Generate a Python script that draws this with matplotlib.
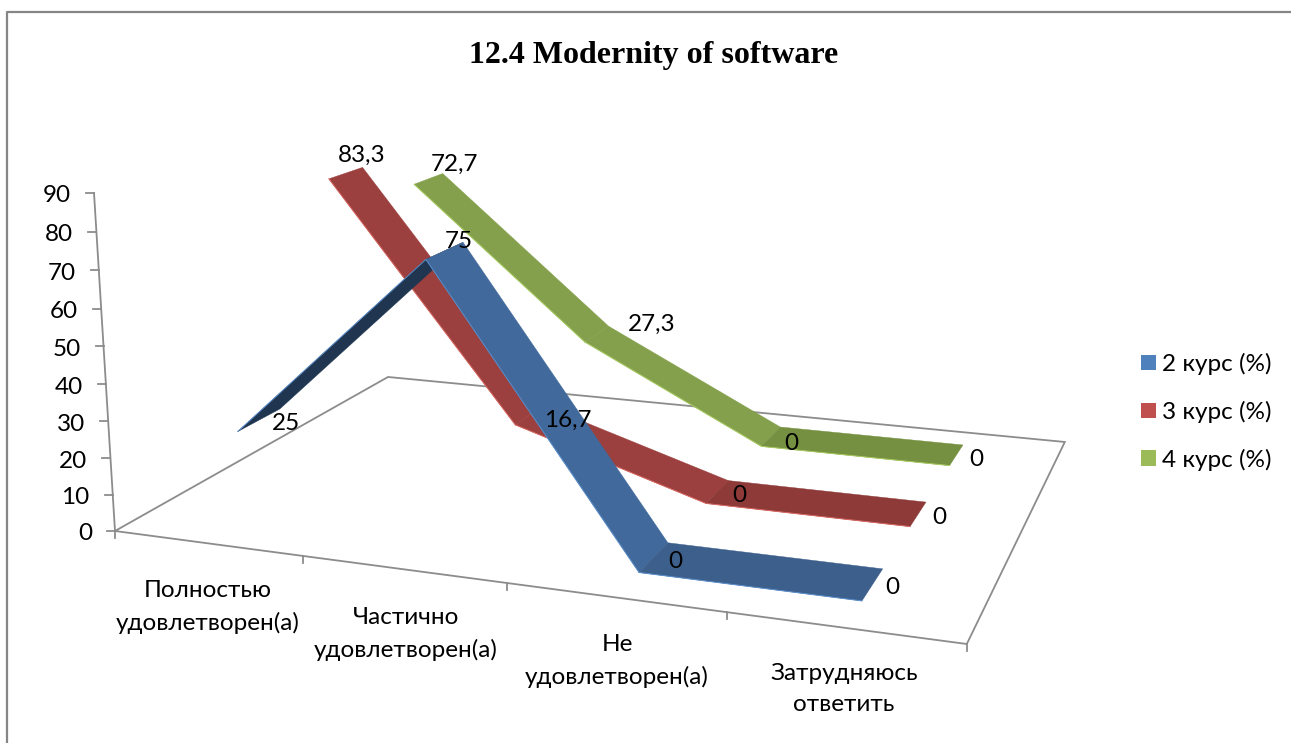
import numpy as np
import matplotlib
matplotlib.use('Agg')
import matplotlib.pyplot as plt
from matplotlib.patches import Polygon

categorias = ['Полностью\nудовлетворен(а)', 'Частично\nудовлетворен(а)',
              'Не\nудовлетворен(а)', 'Затрудняюсь\nответить']
series_nomes = ['2 курс (%)', '3 курс (%)', '4 курс (%)']
curso2 = [25, 75, 0, 0]
curso3 = [83.3, 16.7, 0, 0]
curso4 = [72.7, 27.3, 0, 0]
ticks_y = [0, 10, 20, 30, 40, 50, 60, 70, 80, 90]
titulo = '12.4 Modernity of software'

Y_MAX = 90.0
FONTE = 17.5

# camera of the 3D chart: (u, v, w) in 0-1 -> pixels
CAM = np.array([[709.1, 381.6, 115.0],
                [17.95, -48.5, 531.0],
                [-0.1476, 0.2799, 1.0]])
VERT = -0.03825 * np.array([643.0, 9030.0, 1.0])

# depth band of each series on the floor
FAIXAS = [(0.108, 0.247), (0.45, 0.579), (0.79, 0.920)]
CORES = ['#41699B', '#9B403E', '#84A04C']
CORES_PLANO = ['#3C5F8B', '#8D3A38', '#759040']
CORES_BORDA = ['#5B8FCC', '#D9655F', '#A8CC60']
CORES_LEGENDA = ['#4F81BD', '#C0504D', '#9BBB59']
COR_BAIXO = '#1F3550'
CINZA = '#8C8C8C'

# label anchors in pixels, same order as the series
POS_ROTULOS = [[(286, 424), (459, 242), (675, 562), (892, 588)],
               [(362, 155), (568, 420), (739, 496), (939, 518)],
               [(455, 164), (652, 324), (791, 443), (976, 459)]]


def proj(u, v, valor):
    h = CAM @ np.array([u, v, 1.0]) + (valor / Y_MAX) * VERT
    return h[0] / h[2], h[1] / h[2]


plt.rcParams['font.family'] = ['Lato', 'Open Sans', 'DejaVu Sans']

fig = plt.figure(figsize=(12.91, 7.43), dpi=100)
ax = fig.add_axes([0, 0, 1, 1])
ax.set_xlim(0, 1291)
ax.set_ylim(743, 0)
ax.axis('off')

# outer frame of the chart area
ax.plot([7, 7, 1291], [743, 12, 12], color='#868686', lw=1.6, zorder=1)

# floor
canto = [proj(0, 0, 0), proj(1, 0, 0), proj(1, 1, 0), proj(0, 1, 0), proj(0, 0, 0)]
ax.plot(*zip(*canto), color=CINZA, lw=1.3, zorder=1, solid_joinstyle='miter')

# value axis
ax.plot(*zip(proj(0, 0, 0), proj(0, 0, Y_MAX)), color=CINZA, lw=1.3, zorder=1)
for t in ticks_y:
    x, y = proj(0, 0, t)
    ax.plot([x - 8, x], [y, y], color=CINZA, lw=1.3, zorder=1)
    ax.text(x - 23, y + 3, str(t), ha='right', va='center', fontsize=FONTE)

# category axis
for i in range(5):
    x, y = proj(i / 4, 0, 0)
    ax.plot([x, x], [y, y + 7], color=CINZA, lw=1.3, zorder=1)
pos_cat = [(208, 607), (406, 634), (617, 661), (844, 689)]
for nome, (x, y) in zip(categorias, pos_cat):
    ax.text(x, y, nome, ha='center', va='center', fontsize=FONTE, linespacing=1.62)

# ribbons, back series first
todas = [curso2, curso3, curso4]
for s in [2, 1, 0]:
    v0, v1 = FAIXAS[s]
    valores = todas[s]
    for i in range(3):
        u0, u1 = (i + 0.5) / 4, (i + 1.5) / 4
        a, b = valores[i], valores[i + 1]
        if b > a:
            cor = COR_BAIXO
        elif a == b:
            cor = CORES_PLANO[s]
        else:
            cor = CORES[s]
        pts = [proj(u0, v0, a), proj(u1, v0, b), proj(u1, v1, b), proj(u0, v1, a)]
        ax.add_patch(Polygon(pts, closed=True, facecolor=cor, edgecolor=cor, lw=0.3, zorder=2 + (2 - s)))
        ax.plot(*zip(pts[0], pts[1]), color=CORES_BORDA[s], lw=0.7, zorder=2.1 + (2 - s))

# value labels
for s, valores in enumerate(todas):
    for val, (x, y) in zip(valores, POS_ROTULOS[s]):
        ax.text(x, y, f'{val:g}'.replace('.', ','), ha='center', va='center', fontsize=FONTE, zorder=10)

ax.text(654, 55, titulo, ha='center', va='center', fontsize=23,
        family='Liberation Serif', fontweight='bold')

# legend
alcas = [plt.Rectangle((0, 0), 1, 1, facecolor=c) for c in CORES_LEGENDA]
ax.legend(alcas, series_nomes, loc='upper left', bbox_to_anchor=(1141 / 1291, 1 - 353 / 743),
          frameon=False, fontsize=FONTE, handlelength=0.62, handleheight=0.62,
          handletextpad=0.25, labelspacing=1.06, borderpad=0, borderaxespad=0)

fig.savefig('out.png', dpi=100)
